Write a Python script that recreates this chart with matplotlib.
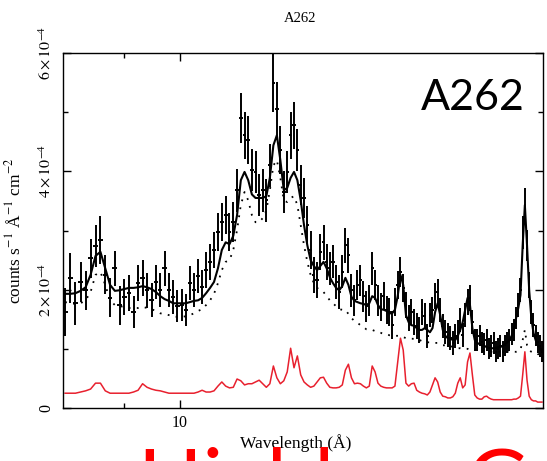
import matplotlib
matplotlib.use("Agg")
import matplotlib.pyplot as plt
import numpy as np
from matplotlib.ticker import FixedLocator, FixedFormatter, NullFormatter

plt.rcParams["font.family"] = "Liberation Serif"
plt.rcParams["mathtext.fontset"] = "stix"

# bin centres in Angstrom (0.08 A bins)
wave = [
    8.04, 8.12, 8.20, 8.28, 8.36, 8.44, 8.52, 8.60, 8.68, 8.76,
    8.84, 8.92, 9.00, 9.08, 9.16, 9.24, 9.32, 9.40, 9.48, 9.56,
    9.64, 9.72, 9.80, 9.88, 9.96, 10.04, 10.12, 10.20, 10.28, 10.36,
    10.44, 10.52, 10.60, 10.68, 10.76, 10.84, 10.92, 11.00, 11.08, 11.16,
    11.24, 11.32, 11.40, 11.48, 11.56, 11.64, 11.72, 11.80, 11.88, 11.96,
    12.04, 12.12, 12.20, 12.28, 12.36, 12.44, 12.52, 12.60, 12.68, 12.76,
    12.84, 12.92, 13.00, 13.08, 13.16, 13.24, 13.32, 13.40, 13.48, 13.56,
    13.64, 13.72, 13.80, 13.88, 13.96, 14.04, 14.12, 14.20, 14.28, 14.36,
    14.44, 14.52, 14.60, 14.68, 14.76, 14.84, 14.92, 15.00, 15.08, 15.16,
    15.24, 15.32, 15.40, 15.48, 15.56, 15.64, 15.72, 15.80, 15.88, 15.96,
    16.04, 16.12, 16.20, 16.28, 16.36, 16.44, 16.52, 16.60, 16.68, 16.76,
    16.84, 16.92, 17.00, 17.08, 17.16, 17.24, 17.32, 17.40, 17.48, 17.56,
    17.64, 17.72, 17.80, 17.88, 17.96, 18.04, 18.12, 18.20, 18.28, 18.36,
    18.44, 18.52, 18.60, 18.68, 18.76, 18.84, 18.92, 19.00, 19.08, 19.16,
    19.24, 19.32, 19.40, 19.48, 19.56, 19.64, 19.72, 19.80, 19.88, 19.96,
]
BIN_HALF = 0.04

# fluxes in units of 1e-4 counts s^-1 A^-1 cm^-2
flux = [
    1.62, 2.20, 1.77, 2.13, 1.99, 2.53, 2.74, 2.84, 2.25, 1.86,
    2.36, 1.74, 1.88, 1.94, 1.62, 2.11, 2.20, 1.99, 1.82, 2.13,
    1.99, 2.36, 1.99, 1.88, 1.72, 1.74, 1.66, 2.11, 1.99, 2.23,
    2.04, 2.33, 2.47, 2.67, 2.97, 3.14, 3.26, 2.97, 3.14, 3.68,
    4.90, 4.61, 4.53, 4.02, 3.99, 3.60, 3.68, 3.51, 4.10, 5.50,
    5.05, 4.36, 3.65, 3.99, 4.61, 4.78, 4.36, 3.77, 3.55, 3.09,
    2.67, 2.25, 2.16, 2.64, 2.80, 2.47, 2.36, 2.47, 2.13, 1.96,
    2.30, 2.75, 2.58, 1.99, 1.82, 2.08, 2.16, 1.89, 1.72, 1.82,
    2.36, 2.08, 1.82, 1.71, 1.89, 1.66, 1.62, 1.40, 1.79, 2.08,
    2.30, 2.03, 1.74, 1.52, 1.62, 1.45, 1.39, 1.32, 1.62, 1.55,
    1.22, 1.57, 1.66, 1.89, 1.96, 1.66, 1.39, 1.28, 1.23, 1.18,
    1.10, 1.22, 1.28, 1.49, 1.23, 1.57, 1.79, 1.86, 1.45, 1.15,
    1.15, 1.22, 1.11, 1.08, 1.15, 1.01, 1.05, 1.10, 0.95, 1.00,
    1.05, 0.95, 1.06, 1.11, 1.15, 1.25, 1.32, 1.52, 1.74, 1.99,
    2.97, 3.43, 2.75, 2.08, 1.62, 1.40, 1.22, 1.11, 1.05, 0.95,
]
flux_err = [
    0.40, 0.42, 0.36, 0.33, 0.33, 0.33, 0.36, 0.40, 0.33, 0.33,
    0.30, 0.33, 0.30, 0.30, 0.27, 0.30, 0.30, 0.30, 0.29, 0.29,
    0.29, 0.30, 0.29, 0.29, 0.27, 0.27, 0.27, 0.29, 0.29, 0.29,
    0.29, 0.30, 0.30, 0.30, 0.32, 0.32, 0.32, 0.32, 0.34, 0.36,
    0.42, 0.40, 0.40, 0.36, 0.36, 0.36, 0.36, 0.36, 0.36, 0.50,
    0.46, 0.40, 0.36, 0.36, 0.40, 0.40, 0.36, 0.34, 0.34, 0.32,
    0.32, 0.30, 0.30, 0.30, 0.30, 0.30, 0.28, 0.28, 0.28, 0.28,
    0.28, 0.30, 0.30, 0.28, 0.26, 0.26, 0.26, 0.26, 0.26, 0.26,
    0.28, 0.26, 0.26, 0.24, 0.24, 0.24, 0.24, 0.24, 0.24, 0.24,
    0.26, 0.24, 0.22, 0.22, 0.22, 0.22, 0.22, 0.22, 0.22, 0.22,
    0.20, 0.20, 0.22, 0.22, 0.22, 0.20, 0.20, 0.20, 0.20, 0.20,
    0.20, 0.20, 0.20, 0.20, 0.20, 0.20, 0.22, 0.22, 0.20, 0.18,
    0.18, 0.18, 0.18, 0.18, 0.18, 0.18, 0.18, 0.18, 0.18, 0.18,
    0.18, 0.18, 0.18, 0.18, 0.18, 0.18, 0.18, 0.18, 0.20, 0.20,
    0.28, 0.28, 0.26, 0.22, 0.20, 0.20, 0.18, 0.18, 0.18, 0.18,
]
# total model (solid)
model_total = [
    1.93, 1.93, 1.94, 1.98, 2.04, 2.25, 2.57, 2.64, 2.36, 2.08,
    1.98, 1.99, 2.01, 2.03, 2.03, 2.04, 2.06, 2.04, 2.01, 1.96,
    1.89, 1.84, 1.81, 1.77, 1.77, 1.77, 1.77, 1.79, 1.81, 1.82,
    1.86, 1.94, 2.03, 2.13, 2.36, 2.67, 2.80, 2.77, 2.91, 3.26,
    3.85, 3.99, 3.85, 3.61, 3.55, 3.55, 3.55, 3.58, 3.89, 4.44,
    4.61, 4.19, 3.68, 3.72, 3.89, 3.99, 3.85, 3.51, 3.09, 2.75,
    2.50, 2.40, 2.33, 2.40, 2.47, 2.36, 2.21, 2.11, 2.03, 1.99,
    2.06, 2.20, 2.08, 1.88, 1.81, 1.79, 1.77, 1.76, 1.74, 1.77,
    1.89, 1.86, 1.74, 1.67, 1.66, 1.64, 1.60, 1.60, 1.66, 1.89,
    2.25, 2.08, 1.57, 1.45, 1.40, 1.39, 1.35, 1.32, 1.32, 1.35,
    1.32, 1.28, 1.35, 1.62, 1.77, 1.57, 1.32, 1.22, 1.18, 1.17,
    1.15, 1.15, 1.22, 1.32, 1.45, 1.66, 1.86, 1.74, 1.35, 1.15,
    1.10, 1.08, 1.06, 1.05, 1.03, 1.01, 1.01, 1.01, 1.01, 1.03,
    1.03, 1.05, 1.08, 1.11, 1.15, 1.22, 1.35, 1.52, 1.69, 1.91,
    2.75, 3.43, 2.75, 1.99, 1.52, 1.27, 1.15, 1.06, 1.01, 0.98,
]
# second model (dotted)
model_dotted = [
    1.79, 1.77, 1.76, 1.77, 1.82, 1.96, 2.25, 2.30, 2.08, 1.82,
    1.74, 1.72, 1.71, 1.69, 1.69, 1.69, 1.71, 1.69, 1.67, 1.64,
    1.60, 1.59, 1.57, 1.55, 1.54, 1.54, 1.55, 1.57, 1.60, 1.64,
    1.67, 1.74, 1.82, 1.93, 2.11, 2.33, 2.47, 2.50, 2.67, 3.01,
    3.43, 3.65, 3.51, 3.26, 3.14, 3.14, 3.21, 3.34, 3.68, 4.10,
    4.19, 3.89, 3.51, 3.48, 3.55, 3.58, 3.43, 3.09, 2.75, 2.47,
    2.25, 2.11, 2.03, 1.99, 1.96, 1.89, 1.82, 1.77, 1.72, 1.67,
    1.66, 1.66, 1.59, 1.52, 1.47, 1.44, 1.40, 1.37, 1.33, 1.32,
    1.32, 1.30, 1.28, 1.27, 1.25, 1.25, 1.23, 1.23, 1.22, 1.22,
    1.22, 1.20, 1.18, 1.18, 1.17, 1.17, 1.15, 1.15, 1.13, 1.13,
    1.11, 1.11, 1.10, 1.10, 1.10, 1.08, 1.06, 1.06, 1.05, 1.05,
    1.03, 1.03, 1.01, 1.01, 1.00, 1.00, 1.00, 0.98, 0.98, 0.98,
    0.98, 0.96, 0.96, 0.96, 0.96, 0.95, 0.95, 0.95, 0.95, 0.95,
    0.95, 0.95, 0.95, 0.95, 0.95, 0.95, 0.95, 0.95, 0.96, 0.98,
    1.15, 1.32, 1.06, 0.98, 0.95, 0.93, 0.93, 0.91, 0.91, 0.90,
]
# cool component (red)
model_red = [
    0.25, 0.25, 0.25, 0.27, 0.29, 0.32, 0.42, 0.42, 0.29, 0.25,
    0.25, 0.25, 0.25, 0.25, 0.27, 0.30, 0.41, 0.35, 0.32, 0.30,
    0.29, 0.27, 0.25, 0.25, 0.25, 0.25, 0.25, 0.25, 0.25, 0.27,
    0.30, 0.27, 0.27, 0.29, 0.37, 0.44, 0.37, 0.34, 0.35, 0.49,
    0.46, 0.39, 0.41, 0.41, 0.44, 0.47, 0.41, 0.35, 0.41, 0.71,
    0.51, 0.41, 0.46, 0.61, 1.01, 0.68, 0.88, 0.56, 0.44, 0.39,
    0.35, 0.37, 0.44, 0.51, 0.52, 0.42, 0.35, 0.34, 0.34, 0.35,
    0.39, 0.64, 0.74, 0.51, 0.41, 0.42, 0.41, 0.37, 0.34, 0.37,
    0.71, 0.61, 0.42, 0.37, 0.35, 0.34, 0.34, 0.34, 0.37, 0.78,
    1.18, 0.98, 0.42, 0.37, 0.41, 0.42, 0.30, 0.27, 0.25, 0.24,
    0.22, 0.27, 0.39, 0.51, 0.44, 0.27, 0.20, 0.19, 0.17, 0.17,
    0.19, 0.25, 0.42, 0.51, 0.34, 0.39, 0.78, 0.93, 0.56, 0.22,
    0.17, 0.15, 0.15, 0.19, 0.20, 0.17, 0.15, 0.14, 0.14, 0.14,
    0.14, 0.14, 0.14, 0.14, 0.14, 0.14, 0.15, 0.15, 0.17, 0.20,
    0.56, 0.95, 0.47, 0.20, 0.14, 0.12, 0.12, 0.10, 0.10, 0.10,
]
UNIT = 1e-4

y_ticks = [0, 2e-4, 4e-4, 6e-4]
y_tick_labels = ["0", r"$2\times10^{-4}$", r"$4\times10^{-4}$", r"$6\times10^{-4}$"]
y_minor = [1e-4, 3e-4, 5e-4]
x_ticks = [10]
x_tick_labels = ["10"]
x_minor = [9]

w = np.array(wave)
fig = plt.figure(figsize=(5.47, 4.61), dpi=100)
ax = fig.add_axes([62.5 / 547, 1 - 408 / 461, 480.5 / 547, 355 / 461])

ax.errorbar(w, np.array(flux) * UNIT, yerr=np.array(flux_err) * UNIT,
            xerr=BIN_HALF, fmt="none", ecolor="black", elinewidth=1.4, capsize=0)
ax.plot(w, np.array(model_total) * UNIT, color="black", lw=1.5)
ax.plot(w, np.array(model_dotted) * UNIT, color="black", lw=1.3, ls=(0, (1, 3.5)))
ax.plot(w, np.array(model_red) * UNIT, color="#e8202e", lw=1.1)

ax.set_xscale("log")
ax.set_xlim(8, 20)
ax.set_ylim(0, 6e-4)
ax.xaxis.set_major_locator(FixedLocator(x_ticks))
ax.xaxis.set_major_formatter(FixedFormatter(x_tick_labels))
ax.xaxis.set_minor_locator(FixedLocator(x_minor))
ax.xaxis.set_minor_formatter(NullFormatter())
ax.yaxis.set_major_locator(FixedLocator(y_ticks))
ax.yaxis.set_major_formatter(FixedFormatter(y_tick_labels))
ax.yaxis.set_minor_locator(FixedLocator(y_minor))
ax.tick_params(which="both", direction="in", top=True, right=True, width=1, labelsize=11.5)
ax.tick_params(which="major", length=6)
ax.tick_params(which="minor", length=3.5)
ax.tick_params(axis="y", pad=6)
ax.tick_params(axis="x", pad=5)
for lab in ax.get_yticklabels():
    lab.set_rotation(90)
    lab.set_va("center")
for sp in ax.spines.values():
    sp.set_linewidth(1.0)

ax.set_xlabel("Wavelength (Å)", fontsize=12.5)
ax.xaxis.set_label_coords((296 - 62.5) / 480.5, -(434 - 408) / 355)
ax.set_ylabel(r"counts s$^{-1}$ Å$^{-1}$ cm$^{-2}$", fontsize=12.5)
ax.yaxis.set_label_coords(-38 / 480.5, 0.5)

fig.text(300 / 547, 1 - 19 / 461, "A262", ha="center", va="center", fontsize=10.5)
fig.text(421 / 547, 1 - 110 / 461, "A262", family="Lato", fontsize=31,
         ha="left", va="baseline")
# slide caption running off the bottom edge
fig.text(138 / 547, 1 - 509 / 461, "Highly —Gaussian", family=["Lato", "DejaVu Sans"],
         fontsize=61, color="red", ha="left", va="baseline")

fig.savefig("out.png", dpi=100)
